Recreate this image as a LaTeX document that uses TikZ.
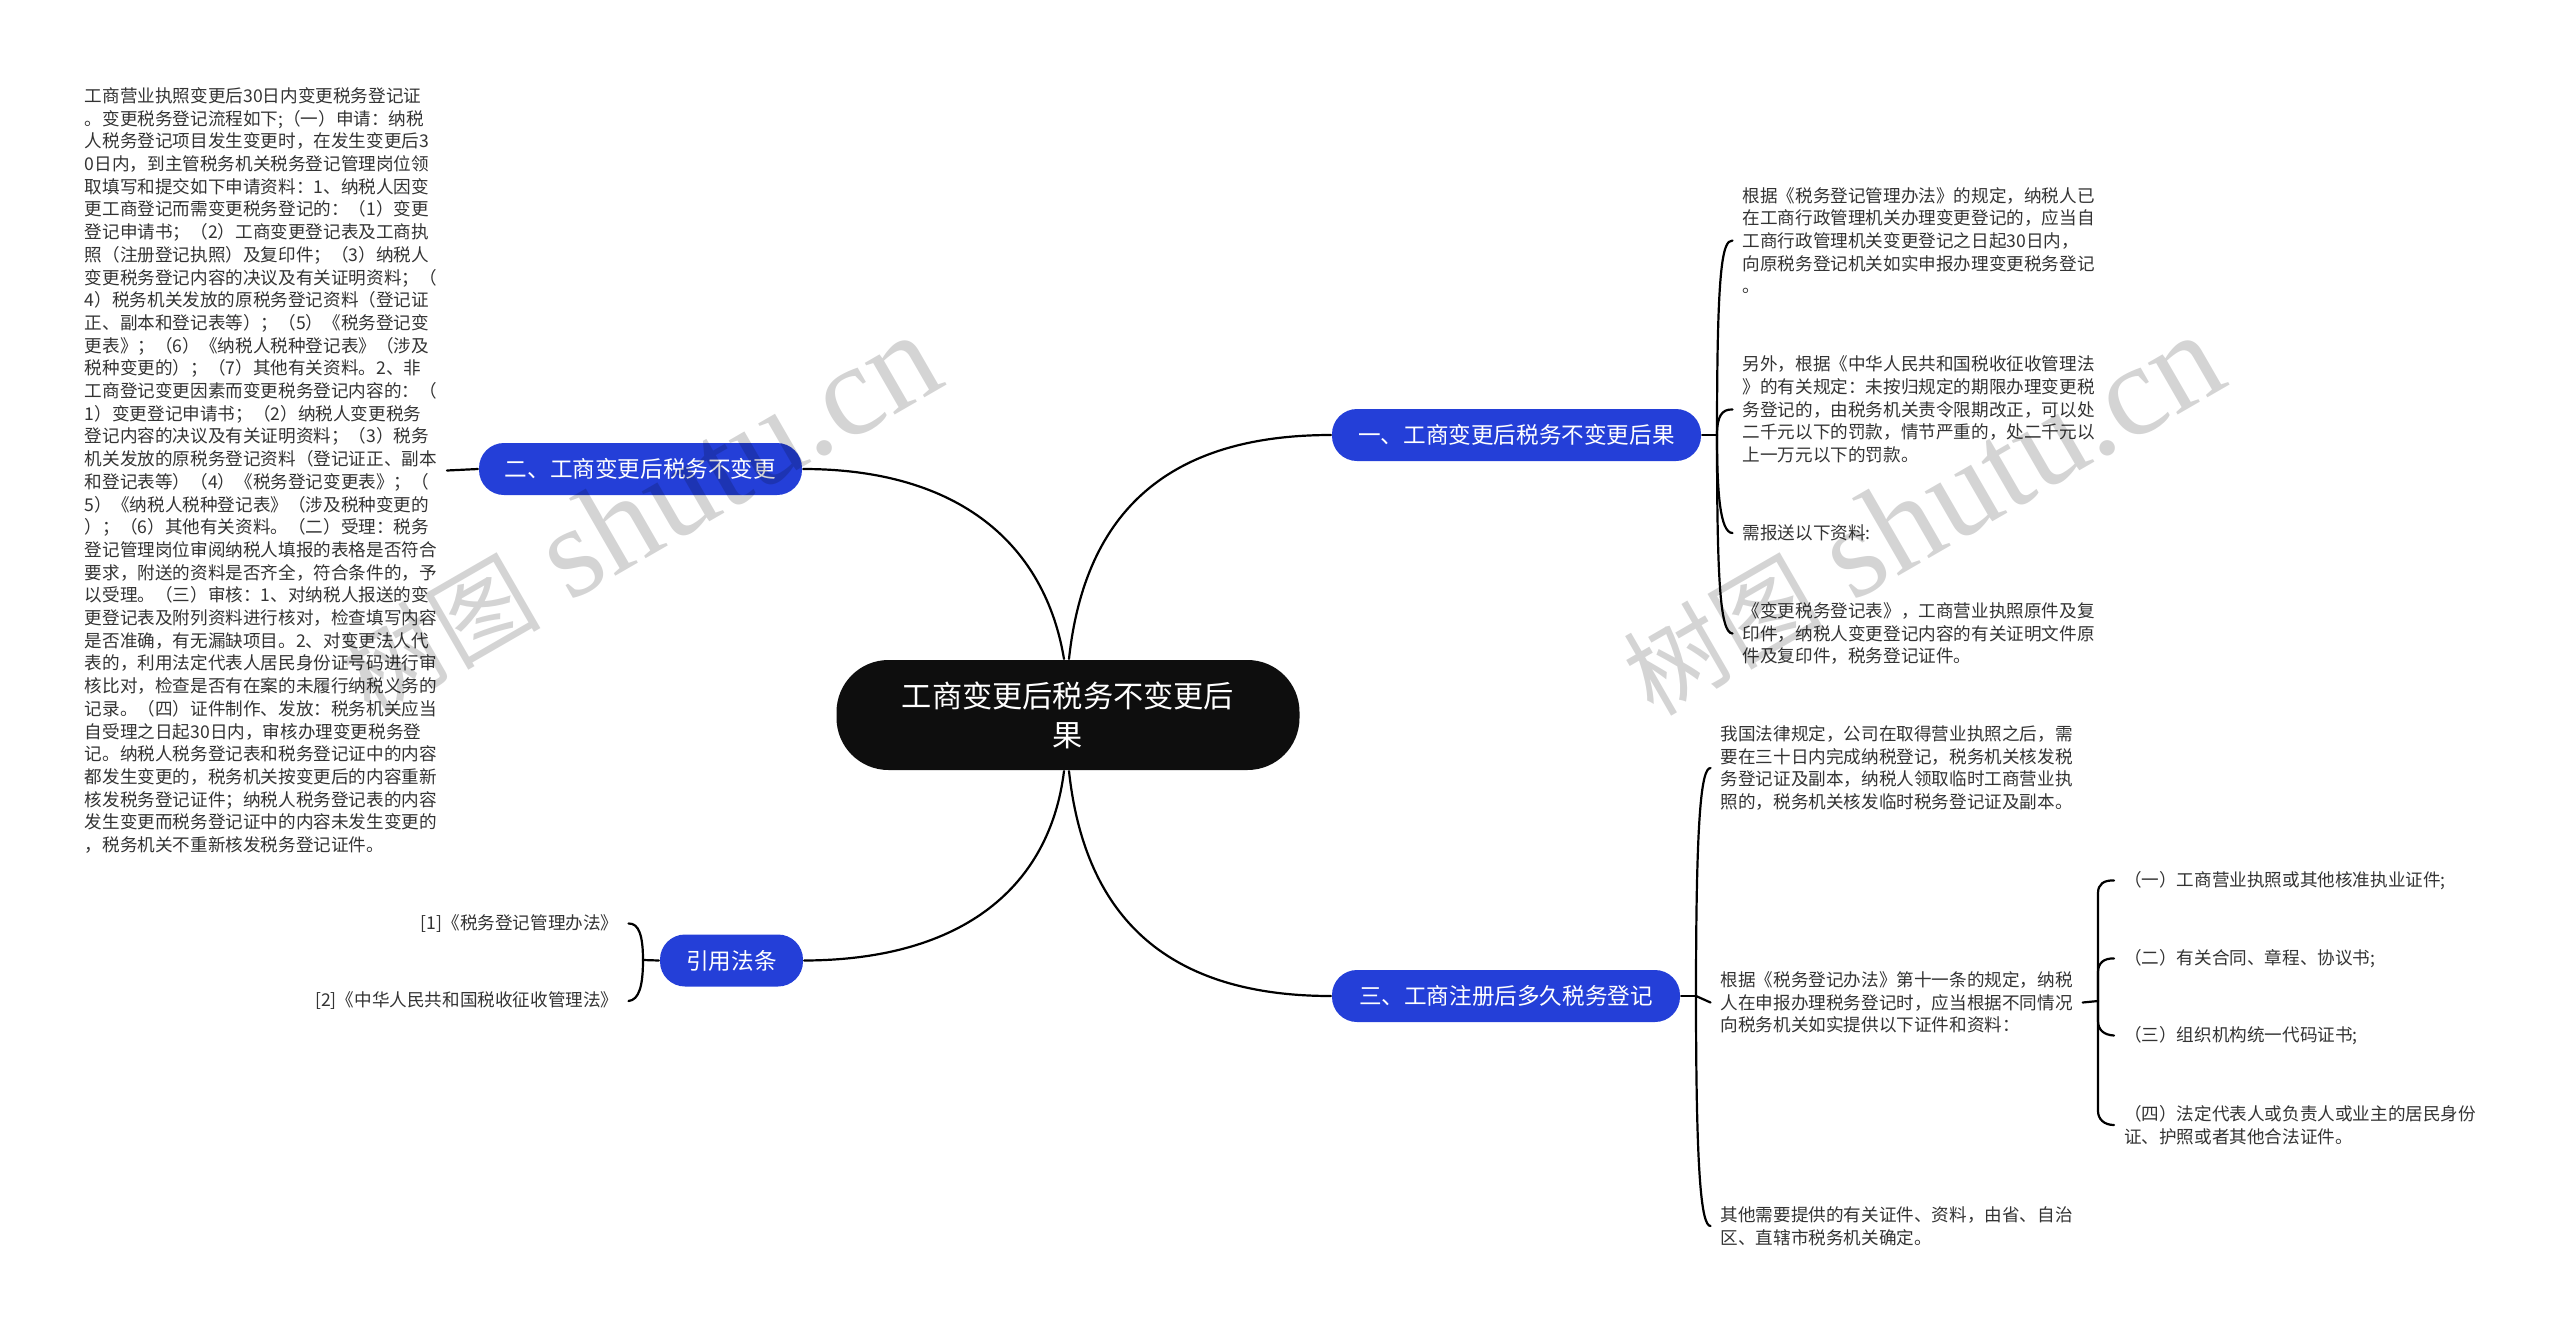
\documentclass[tikz,border=0pt]{standalone}
\usepackage{fontspec}
\setmainfont{Noto Sans CJK SC}
\newfontfamily\markfont{Liberation Serif}
\definecolor{nodeblue}{HTML}{243FD8}
\definecolor{rootblack}{HTML}{0E0E0E}
\definecolor{bodygrey}{HTML}{333333}
\tikzset{every picture/.style={line width=2.2pt}}
\tikzset{rootnode/.style={fill=rootblack,text=white,rounded corners=52pt,minimum width=463pt,minimum height=110pt,inner sep=0pt,align=center,font=\fontsize{30.2pt}{39pt}\selectfont}}
\tikzset{branch/.style={fill=nodeblue,text=white,rounded corners=25pt,minimum height=52pt,inner sep=0pt,font=\fontsize{22.6pt}{28pt}\selectfont}}
\tikzset{body/.style={text=bodygrey,inner xsep=9pt,inner ysep=0pt,text width=352pt,align=left,anchor=west,font=\fontsize{17.6pt}{22.7pt}\selectfont}}
\tikzset{leaf/.style={text=bodygrey,inner xsep=9pt,inner ysep=0pt,align=left,anchor=west,font=\fontsize{17.6pt}{22.7pt}\selectfont}}
\tikzset{link/.style={draw=black,line cap=round}}
\tikzset{watermark/.style={text=black,text opacity=0.17,rotate=30,inner sep=0pt,font=\fontsize{100pt}{120pt}\selectfont}}
\newcommand{\marktext}{树图\hspace{30pt}{\markfont\fontsize{130pt}{138pt}\selectfont shutu.cn}}

\begin{document}
\begin{tikzpicture}[x=1pt,y=1pt]
\useasboundingbox (0,0) rectangle (2560,-1331);
\node [rootnode] (root) at (1068,-715) {工商变更后税务不变更后\\果};
\node [branch,minimum width=369pt] (one) at (1516.5,-435) {一、工商变更后税务不变更后果};
\node [branch,minimum width=323pt] (two) at (640.5,-469) {二、工商变更后税务不变更};
\node [branch,minimum width=348pt] (three) at (1506,-996) {三、工商注册后多久税务登记};
\node [branch,minimum width=143pt] (cite) at (731.5,-960.5) {引用法条};

\node [body] (oneA) at (1732.5,-240.5) {根据《税务登记管理办法》的规定，纳税人已\\在工商行政管理机关办理变更登记的，应当自\\工商行政管理机关变更登记之日起30日内，\\向原税务登记机关如实申报办理变更税务登记\\。};
\node [body] (oneB) at (1732.5,-409.5) {另外，根据《中华人民共和国税收征收管理法\\》的有关规定：未按归规定的期限办理变更税\\务登记的，由税务机关责令限期改正，可以处\\二千元以下的罚款，情节严重的，处二千元以\\上一万元以下的罚款。};
\node [body] (oneC) at (1732.5,-533) {需报送以下资料:};
\node [body] (oneD) at (1732.5,-633.5) {《变更税务登记表》，工商营业执照原件及复\\印件，纳税人变更登记内容的有关证明文件原\\件及复印件，税务登记证件。};

\node [body,anchor=east] (twoA) at (447,-470.5) {工商营业执照变更后30日内变更税务登记证\\。变更税务登记流程如下;（一）申请：纳税\\人税务登记项目发生变更时，在发生变更后3\\0日内，到主管税务机关税务登记管理岗位领\\取填写和提交如下申请资料：1、纳税人因变\\更工商登记而需变更税务登记的：（1）变更\\登记申请书；（2）工商变更登记表及工商执\\照（注册登记执照）及复印件；（3）纳税人\\变更税务登记内容的决议及有关证明资料；（\\4）税务机关发放的原税务登记资料（登记证\\正、副本和登记表等）；（5）《税务登记变\\更表》；（6）《纳税人税种登记表》（涉及\\税种变更的）；（7）其他有关资料。2、非\\工商登记变更因素而变更税务登记内容的：（\\1）变更登记申请书；（2）纳税人变更税务\\登记内容的决议及有关证明资料；（3）税务\\机关发放的原税务登记资料（登记证正、副本\\和登记表等）（4）《税务登记变更表》；（\\5）《纳税人税种登记表》（涉及税种变更的\\）；（6）其他有关资料。（二）受理：税务\\登记管理岗位审阅纳税人填报的表格是否符合\\要求，附送的资料是否齐全，符合条件的，予\\以受理。（三）审核：1、对纳税人报送的变\\更登记表及附列资料进行核对，检查填写内容\\是否准确，有无漏缺项目。2、对变更法人代\\表的，利用法定代表人居民身份证号码进行审\\核比对，检查是否有在案的未履行纳税义务的\\记录。（四）证件制作、发放：税务机关应当\\自受理之日起30日内，审核办理变更税务登\\记。纳税人税务登记表和税务登记证中的内容\\都发生变更的，税务机关按变更后的内容重新\\核发税务登记证件；纳税人税务登记表的内容\\发生变更而税务登记证中的内容未发生变更的\\，税务机关不重新核发税务登记证件。};

\node [body] (threeA) at (1710.5,-768) {我国法律规定，公司在取得营业执照之后，需\\要在三十日内完成纳税登记，税务机关核发税\\务登记证及副本，纳税人领取临时工商营业执\\照的，税务机关核发临时税务登记证及副本。};
\node [body] (threeB) at (1710.5,-1002.5) {根据《税务登记办法》第十一条的规定，纳税\\人在申报办理税务登记时，应当根据不同情况\\向税务机关如实提供以下证件和资料：};
\node [body] (threeC) at (1710.5,-1226) {其他需要提供的有关证件、资料，由省、自治\\区、直辖市税务机关确定。};

\node [leaf] (paperA) at (2114,-880.5) {（一）工商营业执照或其他核准执业证件;};
\node [leaf] (paperB) at (2114,-958.5) {（二）有关合同、章程、协议书;};
\node [leaf] (paperC) at (2114,-1035.5) {（三）组织机构统一代码证书;};
\node [leaf] (paperD) at (2114,-1125) {（四）法定代表人或负责人或业主的居民身份\\证、护照或者其他合法证件。};

\node [leaf,anchor=east,align=right] (lawA) at (628.5,-923.5) {[1]《税务登记管理办法》};
\node [leaf,anchor=east,align=right] (lawB) at (628.5,-1001) {[2]《中华人民共和国税收征收管理法》};

\coordinate (oneJoin) at (1717,-435);
\coordinate (threeJoin) at (1696,-996);
\coordinate (paperJoin) at (2098,-1001);
\coordinate (citeJoin) at (643,-960);

\draw [link] ([xshift=1pt]root.north) .. controls (1085,-510) and (1170,-435) .. (one.west);
\draw [link] ([xshift=-4pt]root.north) .. controls (1045,-545) and (960,-469) .. (two.east);
\draw [link] ([xshift=1pt]root.south) .. controls (1085,-920) and (1170,-996) .. (three.west);
\draw [link] ([xshift=-4pt]root.south) .. controls (1050,-885) and (965,-960) .. (cite.east);

\draw [link] (one.east) -- (oneJoin);
\draw [link] (oneJoin) .. controls (1717,-270) and (1722,-240) .. (oneA.west);
\draw [link] (oneJoin) .. controls (1717,-416) and (1722,-409) .. (oneB.west);
\draw [link] (oneJoin) .. controls (1717,-492) and (1720,-533) .. (oneC.west);
\draw [link] (oneJoin) .. controls (1717,-580) and (1720,-633) .. (oneD.west);

\draw [link] (two.west) -- (twoA.east);

\draw [link] (three.east) -- (threeJoin);
\draw [link] (threeJoin) .. controls (1696,-820) and (1701,-768) .. (threeA.west);
\draw [link] (threeJoin) -- (threeB.west);
\draw [link] (threeJoin) .. controls (1696,-1170) and (1701,-1226) .. (threeC.west);

\draw [link] (threeB.east) -- (paperJoin);
\draw [link] (paperJoin) -- (2098,-893) .. controls (2098,-884) and (2104,-880) .. (paperA.west);
\draw [link] (paperJoin) -- (2098,-972) .. controls (2098,-963) and (2104,-958) .. (paperB.west);
\draw [link] (paperJoin) -- (2098,-1021) .. controls (2098,-1030) and (2104,-1035) .. (paperC.west);
\draw [link] (paperJoin) -- (2098,-1111) .. controls (2098,-1119) and (2104,-1125) .. (paperD.west);

\draw [link] (cite.west) -- (citeJoin);
\draw [link] (citeJoin) .. controls (643,-936) and (639,-923) .. (lawA.east);
\draw [link] (citeJoin) .. controls (643,-986) and (639,-1000) .. (lawB.east);

\node [watermark] (markLeft) at (639,-515) {\marktext};
\node [watermark] (markRight) at (1922,-515) {\marktext};
\end{tikzpicture}
\end{document}
